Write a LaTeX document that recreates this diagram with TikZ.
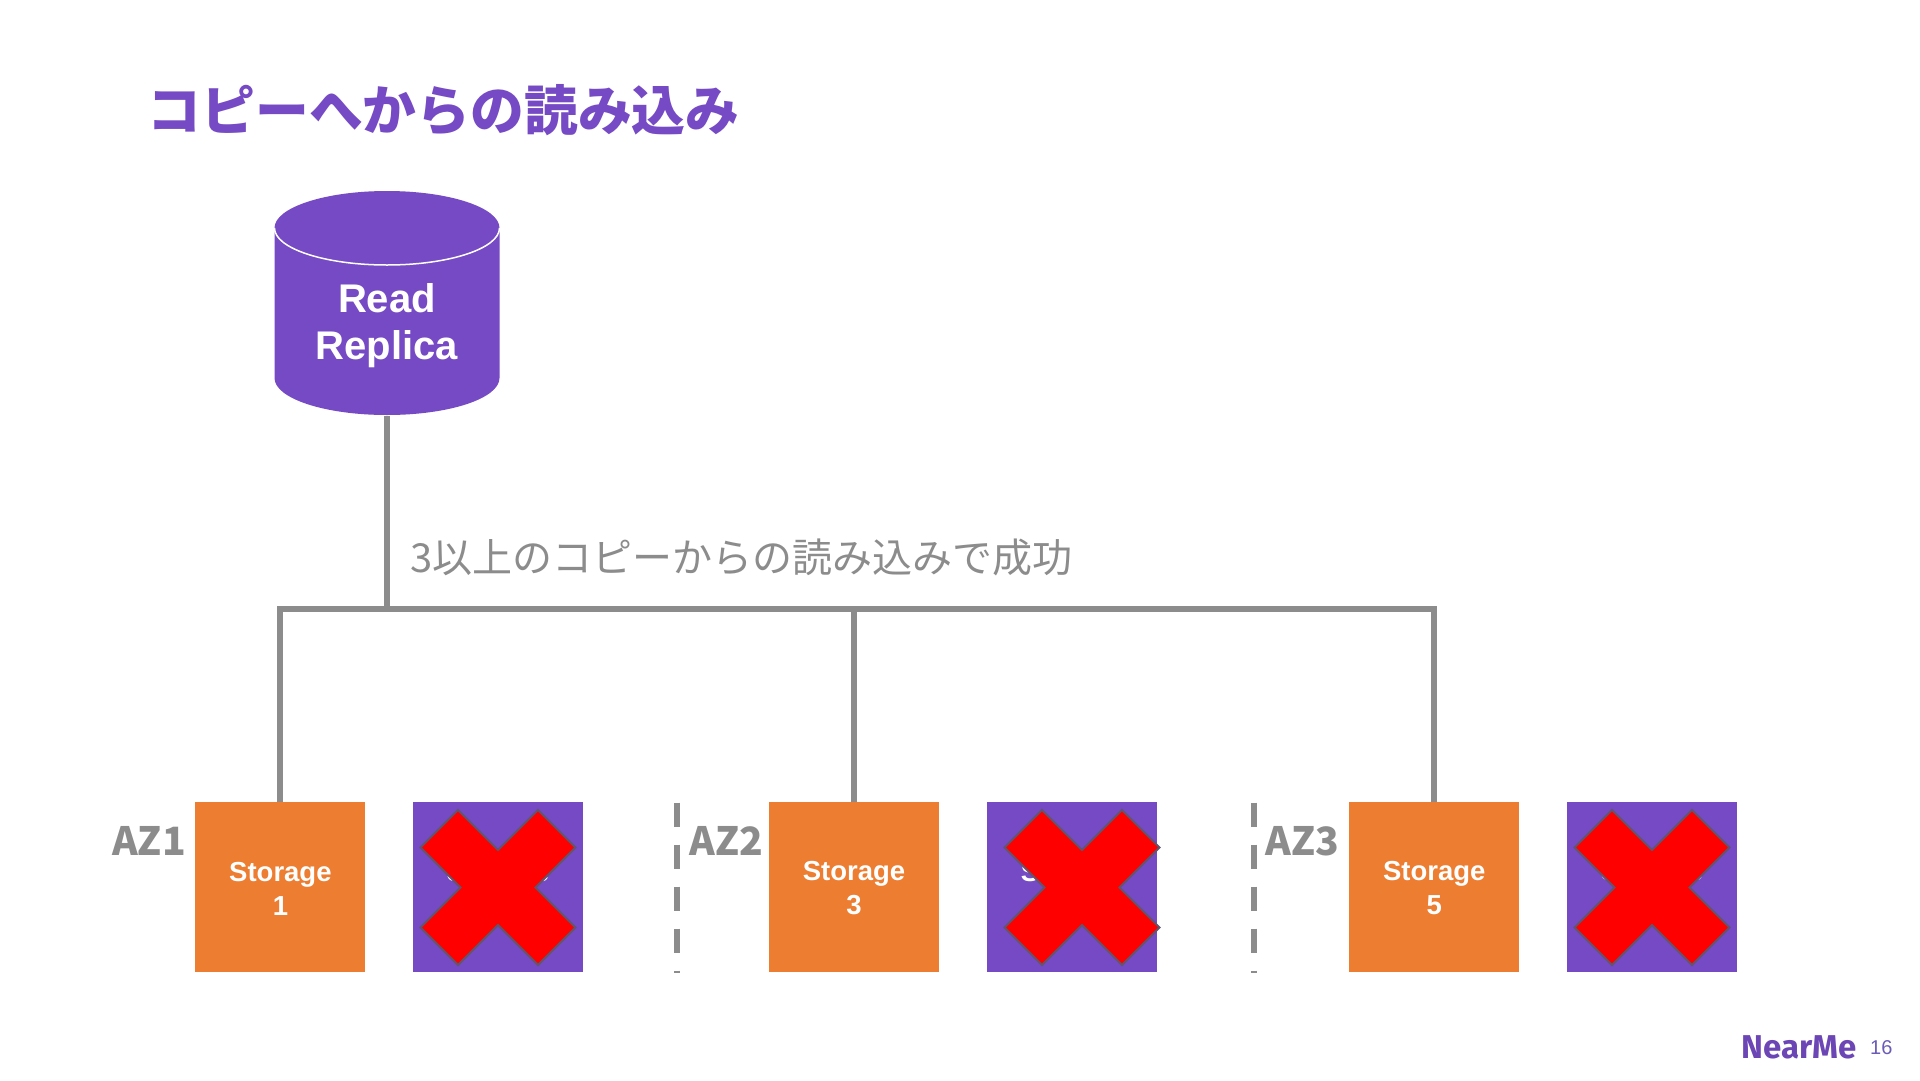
\documentclass[tikz,border=0pt]{standalone}
\usepackage{fontspec}
\setmainfont{Liberation Sans}
\newfontfamily\jpfont{Noto Sans CJK JP}
\newfontfamily\logofont{Fira Sans}
\definecolor{nmpurple}{HTML}{754AC4}
\definecolor{nmorange}{HTML}{ED7D31}
\definecolor{nmgray}{HTML}{8C8C8C}
\definecolor{nmedge}{HTML}{62566C}
\definecolor{nmlogo}{HTML}{6B46B4}
\definecolor{nmpage}{HTML}{6C5CB8}
\tikzset{
  sq/.style={minimum size=170pt,inner sep=0pt,outer sep=0pt,draw=none},
  sqtext/.style={text=white,font=\fontsize{27.5}{34}\selectfont\bfseries,align=center,inner sep=0pt},
  link/.style={draw=nmgray,line width=6pt,line cap=butt,line join=miter},
  azlabel/.style={anchor=base west,inner sep=0pt,text=nmgray,font=\jpfont\bfseries\fontsize{39}{48}\selectfont},
  azdash/.style={draw=nmgray,line width=6pt,dash pattern=on 24pt off 18pt},
  crossx/.style={fill=red,draw=nmedge,line width=2pt,line join=miter}
}
\newcommand{\crossat}[1]{%
  \begin{scope}[shift={(#1,887.5)}]
    \path[crossx] (-77.5,-40) -- (-40,-77.5) -- (0,-37.5) -- (40,-77.5) -- (77.5,-40) -- (37.5,0)
      -- (77.5,40) -- (40,77.5) -- (0,37.5) -- (-40,77.5) -- (-77.5,40) -- (-37.5,0) -- cycle;
  \end{scope}}
\begin{document}
\begin{tikzpicture}[x=1pt,y=-1pt]
\useasboundingbox[fill=white] (0,0) rectangle (1920,1080);

% title
\node[anchor=base west,inner sep=0pt,text=nmpurple,font=\jpfont\bfseries\fontsize{53.8}{60}\selectfont] (title) at (147.5,130) {コピーへからの読み込み};

% cylinder
\fill[nmpurple] (274.5,228) -- (274.5,378) arc[start angle=180,end angle=0,x radius=112.5,y radius=37] -- (499.5,228) arc[start angle=0,end angle=-180,x radius=112.5,y radius=37] -- cycle;
\draw[white,line width=1.5pt] (274.5,228) arc[start angle=180,end angle=0,x radius=112.5,y radius=37];
\coordinate (dbbase) at (387,416);
\node[inner sep=0pt,text=white,font=\fontsize{40}{47.5}\selectfont\bfseries,align=center] (db) at (387,325.5) {Read\\Replica};

% storage boxes
\node[sq,fill=nmorange] (s1) at (280.4,887.2) {};
\node[sq,fill=nmpurple] (s2) at (498,887.2) {};
\node[sq,fill=nmorange] (s3) at (854,887.2) {};
\node[sq,fill=nmpurple] (s4) at (1072,887.2) {};
\node[sq,fill=nmorange] (s5) at (1434.2,887.2) {};
\node[sq,fill=nmpurple] (s6) at (1652,887.2) {};
\node[sqtext] (t1) at (s1) [yshift=-1.3pt] {Storage\\1};
\node[sqtext] (t2) at (s2) [yshift=-1.3pt] {Storage\\2};
\node[sqtext] (t3) at (s3) [yshift=-1.3pt] {Storage\\3};
\node[sqtext] (t4) at (s4) [yshift=-1.3pt] {Storage\\4};
\node[sqtext] (t5) at (s5) [yshift=-1.3pt] {Storage\\5};
\node[sqtext] (t6) at (s6) [yshift=-1.3pt] {Storage\\6};

% connectors
\coordinate (bus) at (387,608.5);
\draw[link] (dbbase) -- (bus);
\draw[link] (s1.north) -- (s1.north |- bus) -- (s5.north |- bus) -- (s5.north);
\draw[link] (s3.north) -- (s3.north |- bus);

% label
\node[anchor=base west,inner sep=0pt,text=nmgray,font=\jpfont\fontsize{40}{48}\selectfont] (cap) at (410,572) {3以上のコピーからの読み込みで成功};

% AZ
\node[azlabel] (az1) at (112,855) {AZ1};
\node[azlabel] (az2) at (689.5,855) {AZ2};
\node[azlabel] (az3) at (1265.5,855) {AZ3};
\coordinate (d1a) at (676.5,802.5); \coordinate (d1b) at (676.5,972.5);
\coordinate (d2a) at (1253.5,802.5); \coordinate (d2b) at (1253.5,972.5);
\draw[azdash] (d1a) -- (d1b);
\draw[azdash] (d2a) -- (d2b);

% crosses
\crossat{498}
\crossat{1082}
\crossat{1652}

% footer
\node[anchor=base west,inner sep=0pt,text=nmlogo,font=\logofont\bfseries\fontsize{33}{36}\selectfont] (logo) at (1741,1058) {NearMe};
\node[anchor=base west,inner sep=0pt,text=nmpage,font=\fontsize{20}{24}\selectfont] (pg) at (1870,1054) {16};
\end{tikzpicture}
\end{document}
